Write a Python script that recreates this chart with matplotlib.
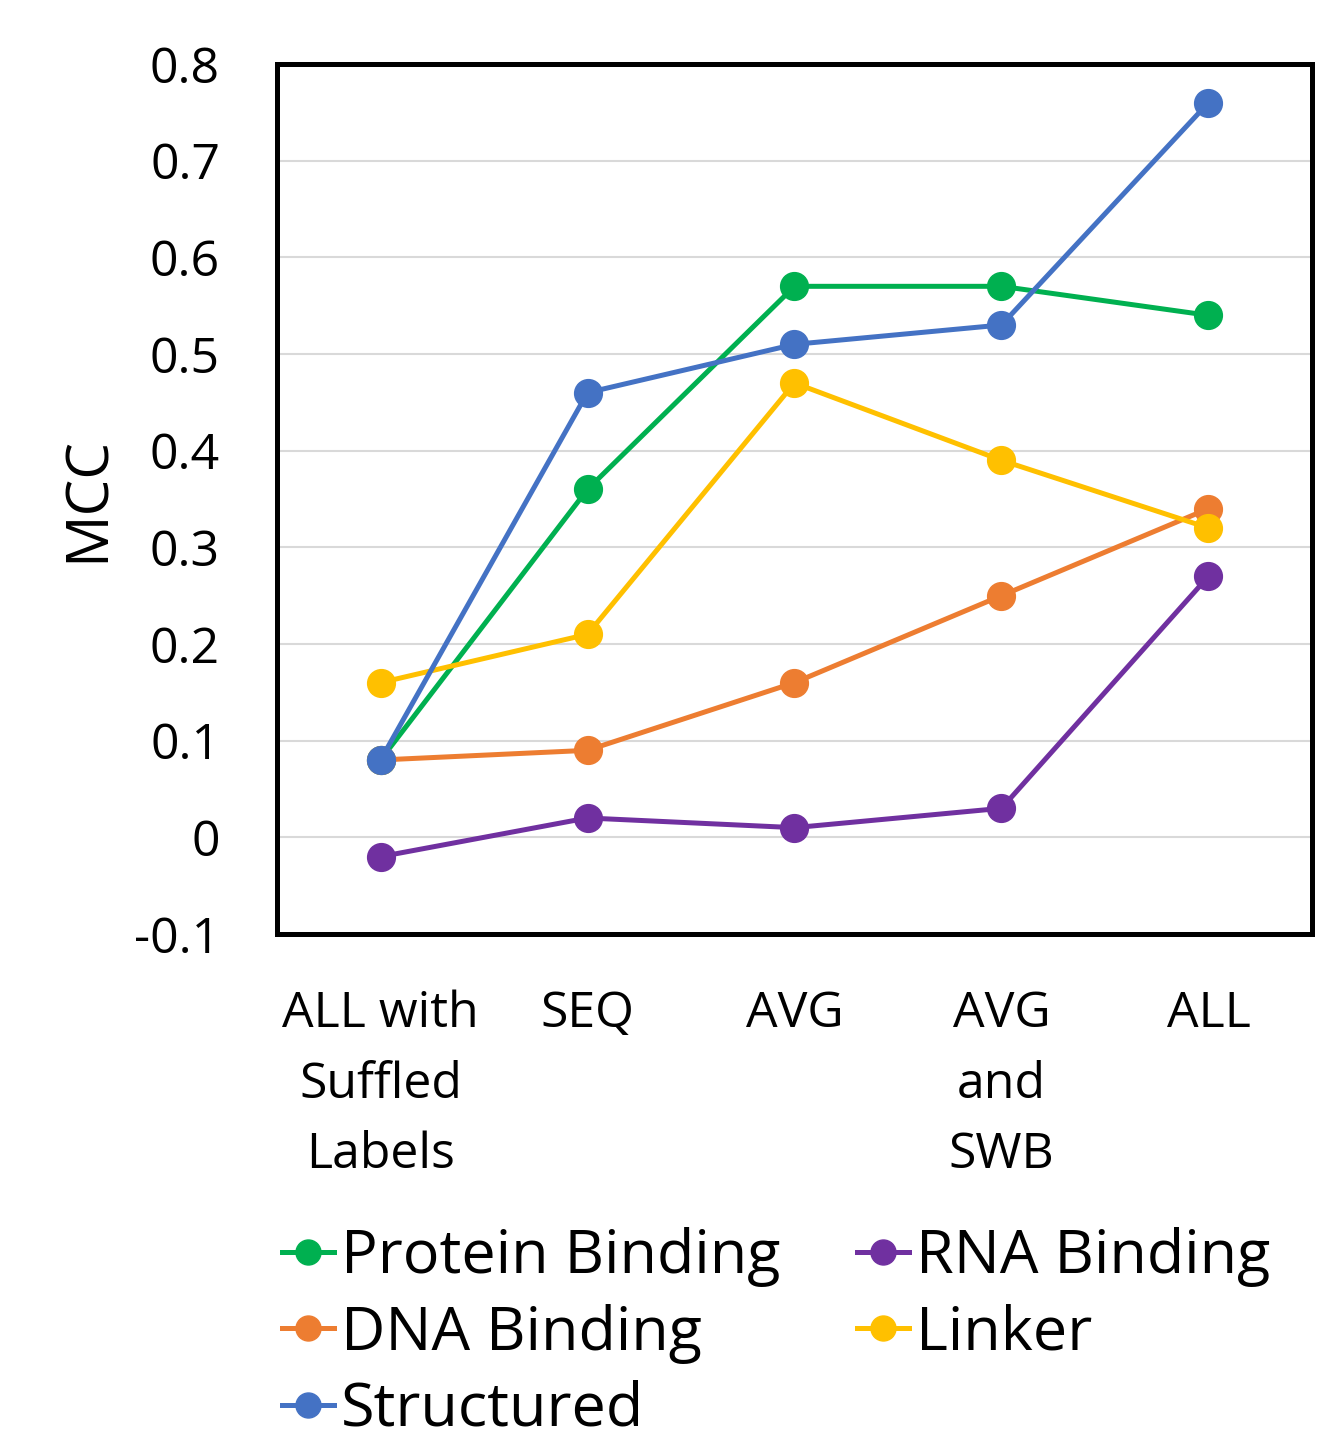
import matplotlib.pyplot as plt

# categories and MCC values
categories = ["ALL with\nSuffled\nLabels", "SEQ", "AVG", "AVG\nand\nSWB", "ALL"]
protein_binding = [0.08, 0.36, 0.57, 0.57, 0.54]
rna_binding = [-0.02, 0.02, 0.01, 0.03, 0.27]
dna_binding = [0.08, 0.09, 0.16, 0.25, 0.34]
linker = [0.16, 0.21, 0.47, 0.39, 0.32]
structured = [0.08, 0.46, 0.51, 0.53, 0.76]
y_ticks = [-0.1, 0, 0.1, 0.2, 0.3, 0.4, 0.5, 0.6, 0.7, 0.8]

plt.rcParams['font.family'] = ['Open Sans', 'DejaVu Sans']

fig = plt.figure(figsize=(13.39, 14.38), dpi=100)
ax = fig.add_axes([0.2069, 0.3505, 0.7729, 0.605])

x = list(range(len(categories)))
series = [
    ("Protein Binding", protein_binding, "#00B050"),
    ("RNA Binding", rna_binding, "#7030A0"),
    ("DNA Binding", dna_binding, "#ED7D31"),
    ("Linker", linker, "#FFC000"),
    ("Structured", structured, "#4472C4"),
]
handles = {}
for i, (name, vals, color) in enumerate(series):
    line, = ax.plot(x, vals, color=color, lw=3.6, marker="o", ms=20,
                    label=name, zorder=3 + i, clip_on=False)
    handles[name] = line

ax.set_xlim(-0.5, 4.5)
ax.set_ylim(-0.1, 0.8)
ax.set_yticks(y_ticks)
ax.set_yticklabels(["-0.1", "0", "0.1", "0.2", "0.3", "0.4", "0.5", "0.6", "0.7", "0.8"])
ax.set_xticks(x)
ax.set_xticklabels(categories, linespacing=1.56)
ax.tick_params(axis='both', length=0, labelsize=36)
ax.tick_params(axis='y', pad=41)
ax.tick_params(axis='x', pad=40)
ax.grid(axis='y', color="#D9D9D9", lw=1.5, zorder=0)
ax.set_axisbelow(True)
for sp in ax.spines.values():
    sp.set_linewidth(3.6)
    sp.set_color("black")
    sp.set_zorder(10)

ax.set_ylabel("MCC", fontsize=42, labelpad=12)

# legend in Excel row order -> matplotlib fills columns first
order = ["Protein Binding", "DNA Binding", "Structured", "RNA Binding", "Linker"]
fig.legend([handles[n] for n in order], order, loc="upper left",
           bbox_to_anchor=(0.2105, 1 - 1227 / 1438), ncol=2, frameon=False,
           fontsize=44, handlelength=0.85, handletextpad=0.12,
           columnspacing=1.25, labelspacing=0.27, borderpad=0,
           borderaxespad=0, markerscale=0.9)

fig.savefig("out.png", dpi=100)
